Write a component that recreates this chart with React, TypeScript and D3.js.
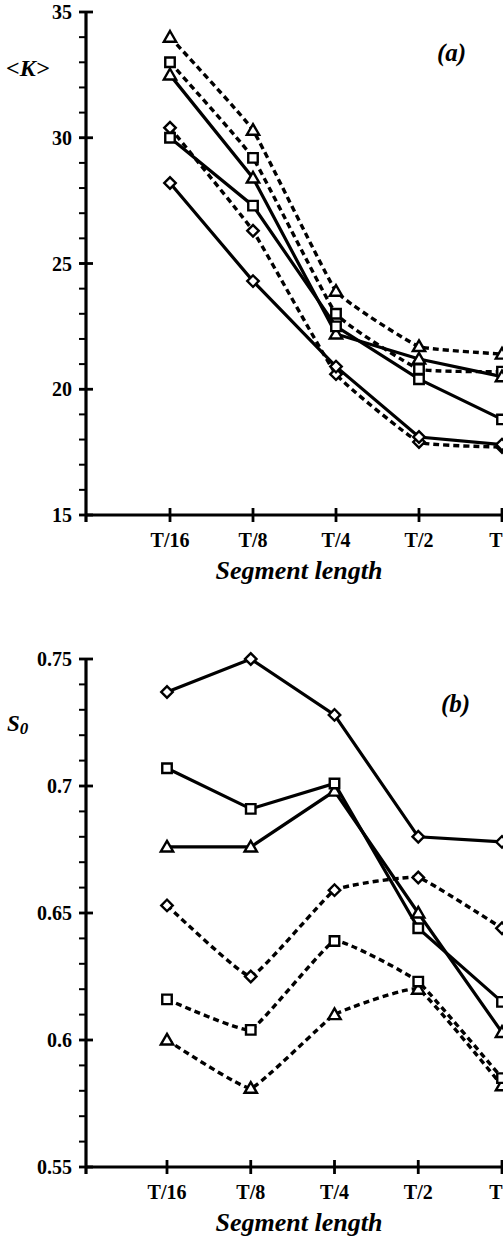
import React from "react";
import * as d3 from "d3";

const categories = ["T/16", "T/8", "T/4", "T/2", "T"];

// Panel (a): <K>
const kSolidDiamond = [28.2, 24.3, 20.9, 18.1, 17.8];
const kSolidSquare = [30.0, 27.3, 22.5, 20.4, 18.8];
const kSolidTriangle = [32.5, 28.4, 22.2, 21.2, 20.5];
const kDashDiamond = [30.4, 26.3, 20.6, 17.9, 17.7];
const kDashSquare = [33.0, 29.2, 23.0, 20.8, 20.7];
const kDashTriangle = [34.0, 30.3, 23.9, 21.7, 21.4];

// Panel (b): S0
const sSolidDiamond = [0.737, 0.75, 0.728, 0.68, 0.678];
const sSolidSquare = [0.707, 0.691, 0.701, 0.644, 0.615];
const sSolidTriangle = [0.676, 0.676, 0.698, 0.65, 0.603];
const sDashDiamond = [0.653, 0.625, 0.659, 0.664, 0.644];
const sDashSquare = [0.616, 0.604, 0.639, 0.623, 0.585];
const sDashTriangle = [0.6, 0.581, 0.61, 0.62, 0.582];

const kTicks = [15, 20, 25, 30, 35];
const sTicks = [0.55, 0.6, 0.65, 0.7, 0.75];

type Series = { values: number[]; marker: "diamond" | "square" | "triangle"; dashed: boolean };

const kSeries: Series[] = [
  { values: kDashTriangle, marker: "triangle", dashed: true },
  { values: kDashSquare, marker: "square", dashed: true },
  { values: kDashDiamond, marker: "diamond", dashed: true },
  { values: kSolidTriangle, marker: "triangle", dashed: false },
  { values: kSolidSquare, marker: "square", dashed: false },
  { values: kSolidDiamond, marker: "diamond", dashed: false },
];
const sSeries: Series[] = [
  { values: sDashTriangle, marker: "triangle", dashed: true },
  { values: sDashSquare, marker: "square", dashed: true },
  { values: sDashDiamond, marker: "diamond", dashed: true },
  { values: sSolidTriangle, marker: "triangle", dashed: false },
  { values: sSolidSquare, marker: "square", dashed: false },
  { values: sSolidDiamond, marker: "diamond", dashed: false },
];

const FONT = "'Liberation Serif', 'Times New Roman', serif";

function Marker({ x, y, kind }: { x: number; y: number; kind: string }) {
  let d = "";
  let transform = `translate(${x},${y})`;
  if (kind === "triangle") {
    d = d3.symbol(d3.symbolTriangle, 66)()!;
    transform += " translate(0,1)";
  } else if (kind === "square") {
    d = d3.symbol(d3.symbolSquare, 90)()!;
  } else {
    d = d3.symbol(d3.symbolSquare, 66)()!;
    transform += " rotate(45)";
  }
  return <path d={d} transform={transform} fill="#fff" stroke="#000" strokeWidth={2.4} />;
}

function Panel({
  yDomain,
  yTop,
  yBottom,
  xFirst,
  xLast,
  ticks,
  minorStep,
  fmt,
  series,
}: {
  yDomain: [number, number];
  yTop: number;
  yBottom: number;
  xFirst: number;
  xLast: number;
  ticks: number[];
  minorStep: number;
  fmt: (v: number) => string;
  series: Series[];
}) {
  const axisX = 86;
  const x = d3.scaleLinear().domain([0, categories.length - 1]).range([xFirst, xLast]);
  const y = d3.scaleLinear().domain(yDomain).range([yBottom, yTop]);
  const minor = d3.range(yDomain[0], yDomain[1] + minorStep / 2, minorStep);
  const solidLine = d3
    .line<number>()
    .x((_, i) => x(i))
    .y((v) => y(v));
  const dashLine = d3
    .line<number>()
    .x((_, i) => x(i))
    .y((v) => y(v))
    .curve(d3.curveCardinal.tension(0.7));
  return (
    <g>
      {/* y axis */}
      <line x1={axisX} x2={axisX} y1={yTop} y2={yBottom + 7} stroke="#000" strokeWidth={3.2} />
      {minor.map((v, i) => (
        <line key={"m" + i} x1={axisX - 7} x2={axisX} y1={y(v)} y2={y(v)} stroke="#000" strokeWidth={2} />
      ))}
      {ticks.map((v) => (
        <g key={"t" + v}>
          <line x1={axisX - 7} x2={axisX + 7} y1={y(v)} y2={y(v)} stroke="#000" strokeWidth={2.8} />
          <text
            x={72}
            y={y(v) + 7}
            textAnchor="end"
            fontFamily={FONT}
            fontWeight="bold"
            fontSize={20}
          >
            {fmt(v)}
          </text>
        </g>
      ))}
      {/* x axis */}
      <line x1={axisX} x2={503} y1={yBottom} y2={yBottom} stroke="#000" strokeWidth={3.2} />
      {categories.map((c, i) => (
        <g key={c}>
          <line x1={x(i)} x2={x(i)} y1={yBottom - 7} y2={yBottom + 7} stroke="#000" strokeWidth={2.8} />
          <text
            x={x(i) - (i === categories.length - 1 ? 6 : 0)}
            y={yBottom + 32}
            textAnchor="middle"
            fontFamily={FONT}
            fontWeight="bold"
            fontSize={20}
          >
            {c}
          </text>
        </g>
      ))}
      <text
        x={299}
        y={yBottom + 64}
        textAnchor="middle"
        fontFamily={FONT}
        fontWeight="bold"
        fontStyle="italic"
        fontSize={26}
      >
        Segment length
      </text>
      {/* lines */}
      {series.map((s, i) => (
        <path
          key={"l" + i}
          d={(s.dashed ? dashLine : solidLine)(s.values)!}
          fill="none"
          stroke="#000"
          strokeWidth={s.dashed ? 3.4 : 3.2}
          strokeDasharray={s.dashed ? "6,4" : undefined}
        />
      ))}
      {series.map((s, i) =>
        s.values.map((v, j) => <Marker key={`p${i}-${j}`} x={x(j)} y={y(v)} kind={s.marker} />)
      )}
    </g>
  );
}

export default function App() {
  return (
    <svg
      width={503}
      height={1240}
      style={{ position: "absolute", left: 0, top: 0, background: "#fff" }}
    >
      <rect width={503} height={1240} fill="#fff" />
      <Panel
        yDomain={[15, 35]}
        yTop={12}
        yBottom={515}
        xFirst={170}
        xLast={502}
        ticks={kTicks}
        minorStep={1}
        fmt={(v) => String(v)}
        series={kSeries}
      />
      <text x={6} y={76} fontFamily={FONT} fontWeight="bold" fontStyle="italic" fontSize={24}>
        {"<K>"}
      </text>
      <text x={437} y={61} fontFamily={FONT} fontWeight="bold" fontStyle="italic" fontSize={25}>
        (a)
      </text>
      <Panel
        yDomain={[0.55, 0.75]}
        yTop={659}
        yBottom={1167}
        xFirst={167}
        xLast={502}
        ticks={sTicks}
        minorStep={0.01}
        fmt={(v) => String(+v.toFixed(2))}
        series={sSeries}
      />
      <text x={7} y={731} fontFamily={FONT} fontWeight="bold" fontStyle="italic" fontSize={23}>
        S
        <tspan fontSize={17} dy={3}>
          0
        </tspan>
      </text>
      <text x={441} y={712} fontFamily={FONT} fontWeight="bold" fontStyle="italic" fontSize={25}>
        (b)
      </text>
    </svg>
  );
}
